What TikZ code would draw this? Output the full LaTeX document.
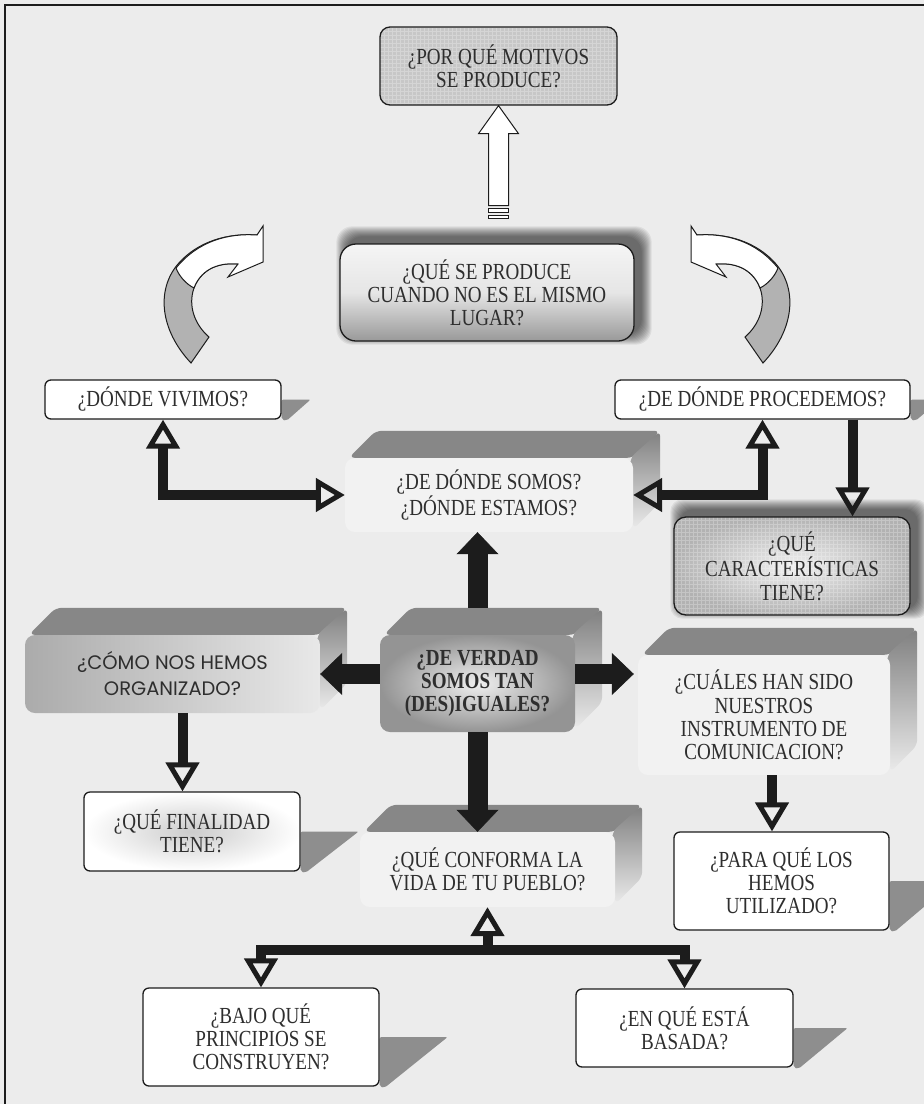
\documentclass[tikz,border=0pt]{standalone}
\usepackage{fontspec}
\setmainfont{Liberation Serif}
\newfontfamily\qfont[FakeStretch=0.83]{Liberation Serif}
\newfontfamily\comicfont{Poppins}
\usetikzlibrary{arrows.meta,calc}
\pgfdeclarelayer{back}
\pgfsetlayers{back,main}
\definecolor{paper}{RGB}{236,236,236}
\definecolor{ink}{RGB}{28,28,28}
\definecolor{castshade}{RGB}{142,142,142}
\definecolor{topface}{RGB}{135,135,135}

\tikzset{
  qtext/.style={font=\qfont\fontsize{23}{23.2}\selectfont, text=ink!92, align=center, inner sep=0pt},
  card/.style={qtext, draw=ink, line width=1.3pt, rounded corners=6pt, fill=white},
  face/.style={qtext, rounded corners=10pt},
  gridded/.style={path picture={\draw[white, opacity=0.25, line width=0.4pt, step=4pt]
      (path picture bounding box.south west) grid (path picture bounding box.north east);}},
  openlink/.style={draw=ink, line width=10pt,
      -{Triangle[open,length=29pt,width=33pt,line width=5pt]}},
  openboth/.style={draw=ink, line width=10pt,
      {Triangle[open,length=29pt,width=33pt,line width=5pt]}-{Triangle[open,length=29pt,width=33pt,line width=5pt]}},
  solidlink/.style={draw=ink, line width=20pt,
      -{Triangle[length=22pt,width=42pt,line width=0.5pt]}},
  outlined/.style={draw=ink, line width=1pt},
}

% cast shadow to the right of a flat card
\newcommand\castshadow[2]{%
  \fill[castshade, rounded corners=2pt] (#1.east) -- ++(#2,0) -- ([xshift=5pt,yshift=-1pt]#1.south east) -- (#1.south east) -- cycle;}
% soft dark halo behind a card, offset up and to the right
\newcommand\softhalo[2]{%
  \foreach \e in {0,1,...,10}{%
    \fill[black, opacity=0.065, rounded corners=#2] ($(#1.north west)+(7-\e,-7-\e)$) rectangle ($(#1.south east)+(7+\e,-7+\e)$);}}
% top and side faces of an extruded box
\newcommand\extrude[1]{%
  \fill[topface, rounded corners=6pt] ([xshift=4pt]#1.north west) -- ($(#1.north west)+(31,-27)$) -- ($(#1.north east)+(27,-27)$) -- (#1.north east) -- cycle;
  \shade[top color=black!50, bottom color=black!8, rounded corners=6pt] ([xshift=-3pt]#1.north east) -- ($(#1.north east)+(27,-27)$) -- ($(#1.south east)+(27,-30)$) -- ([yshift=3pt]#1.south east) -- cycle;}

\begin{document}
\begin{tikzpicture}[x=1pt,y=-1pt]
\useasboundingbox (0,0) rectangle (924,1104);

% ---- question boxes
\node[card, fill=black!22, gridded, rounded corners=10pt, minimum width=237pt, minimum height=78pt] (porque) at (498.5,66) {¿POR QUÉ MOTIVOS\\SE PRODUCE?};
\node[qtext, draw=ink, line width=1.3pt, rounded corners=16pt, top color=black!4, bottom color=black!40, middle color=black!10,
      minimum width=294pt, minimum height=97pt] (produce) at (487,292.5) {¿QUÉ SE PRODUCE\\CUANDO NO ES EL MISMO\\LUGAR?};
\node[card, minimum width=236pt, minimum height=39pt] (vivimos) at (163,399.5) {¿DÓNDE VIVIMOS?};
\node[card, minimum width=295pt, minimum height=39pt] (procedemos) at (762.5,399.5) {¿DE DÓNDE PROCEDEMOS?};
\node[face, fill=black!5, minimum width=288pt, minimum height=74pt] (somos) at (489,495) {¿DE DÓNDE SOMOS?\\¿DÓNDE ESTAMOS?};
\node[card, shading=radial, inner color=black!6, outer color=black!30, gridded, rounded corners=12pt,
      minimum width=236pt, minimum height=98pt] (caract) at (792,566) {¿QUÉ\\CARACTERÍSTICAS\\TIENE?};
\node[face, shading=radial, inner color=black!6, outer color=black!42, minimum width=195pt, minimum height=97pt,
      font=\qfont\bfseries\fontsize{23}{23.2}\selectfont] (verdad) at (477.5,683.5) {¿DE VERDAD\\SOMOS TAN\\(DES)IGUALES?};
\node[face, left color=black!33, right color=black!9, minimum width=295pt, minimum height=78pt,
      font=\comicfont\fontsize{19.5}{26}\selectfont] (como) at (172.5,674) {¿CÓMO NOS HEMOS\\ORGANIZADO?};
\node[face, fill=black!5, minimum width=252pt, minimum height=120pt] (cuales) at (764,715) {¿CUÁLES HAN SIDO\\NUESTROS\\INSTRUMENTO DE\\COMUNICACION?};
\node[card, shading=radial, inner color=black!20, outer color=white, minimum width=216pt, minimum height=79pt] (finalidad) at (192,831.5) {¿QUÉ FINALIDAD\\TIENE?};
\node[face, fill=black!5, minimum width=255pt, minimum height=75pt] (conforma) at (487.5,869.5) {¿QUÉ CONFORMA LA\\VIDA DE TU PUEBLO?};
\node[card, minimum width=215pt, minimum height=98pt] (para) at (781.5,881) {¿PARA QUÉ LOS\\HEMOS\\UTILIZADO?};
\node[card, minimum width=236pt, minimum height=98pt] (bajo) at (261,1037) {¿BAJO QUÉ\\PRINCIPIOS SE\\CONSTRUYEN?};
\node[card, minimum width=217pt, minimum height=78pt] (basada) at (684.5,1028) {¿EN QUÉ ESTÁ\\BASADA?};

% ---- backdrop, shadows and box sides
\begin{pgfonlayer}{back}
  \fill[paper] (0,0) rectangle (924,1104);
  \draw[ink, line width=1.6pt] (5,1110) -- (5,5) -- (930,5);
  \castshadow{vivimos}{29}
  \castshadow{procedemos}{30}
  \castshadow{finalidad}{58}
  \castshadow{para}{65}
  \castshadow{bajo}{68}
  \castshadow{basada}{54}
  \softhalo{produce}{16pt}
  \softhalo{caract}{12pt}
  \extrude{somos}
  \extrude{verdad}
  \extrude{como}
  \extrude{cuales}
  \extrude{conforma}

  % curved arrow on the left, turning towards the centre
  \filldraw[fill=black!30, outlined]
    (191,363) .. controls (160,330) and (156,290) .. (178,264)
    .. controls (198,241) and (228,233) .. (257,235) -- (238,264)
    .. controls (215,262) and (200,272) .. (194,288)
    .. controls (188,305) and (194,324) .. (209,337) -- cycle;
  \filldraw[fill=white, outlined]
    (176,268) .. controls (198,241) and (228,233) .. (257,235)
    -- (263,226) -- (263,262) -- (228,277) -- (238,264)
    .. controls (215,262) and (200,272) .. (194,288)
    .. controls (186,284) and (179,276) .. (176,268) -- cycle;
  % curved arrow on the right, its mirror image
  \filldraw[fill=black!30, outlined]
    (763,363) .. controls (794,330) and (798,290) .. (776,264)
    .. controls (756,241) and (726,233) .. (697,235) -- (716,264)
    .. controls (739,262) and (754,272) .. (760,288)
    .. controls (766,305) and (760,324) .. (745,337) -- cycle;
  \filldraw[fill=white, outlined]
    (778,268) .. controls (756,241) and (726,233) .. (697,235)
    -- (691,226) -- (691,262) -- (726,277) -- (716,264)
    .. controls (739,262) and (754,272) .. (760,288)
    .. controls (768,284) and (775,276) .. (778,268) -- cycle;
\end{pgfonlayer}

% ---- striped block arrow up to the top box
\filldraw[fill=white, outlined]
  ($(porque.south)+(-10,100)$) -- ($(porque.south)+(-10,28)$) -- ($(porque.south)+(-20,28)$)
  -- (porque.south) -- ($(porque.south)+(20,28)$) -- ($(porque.south)+(10,28)$)
  -- ($(porque.south)+(10,100)$) -- cycle;
\filldraw[fill=white, outlined] ($(porque.south)+(-10,103)$) rectangle ($(porque.south)+(10,107)$);
\filldraw[fill=white, outlined] ($(porque.south)+(-10,110)$) rectangle ($(porque.south)+(10,113)$);

% ---- connectors
\draw[openboth] (vivimos.south) |- (somos.west);
\draw[openboth] (procedemos.south) |- (somos.east);
\draw[openlink] ([xshift=90pt]procedemos.south) -- ([xshift=90pt]procedemos.south |- caract.north);

\draw[solidlink] ([yshift=27pt]verdad.north) -- (verdad.north |- somos.south);
\draw[solidlink] (verdad.west |- como.east) -- (como.east);
\draw[solidlink] (verdad.east |- como.east) -- ([xshift=-4pt]cuales.west |- como.east);
\draw[solidlink] (verdad.south) -- (verdad.south |- conforma.north);

\draw[openlink] ([xshift=10pt]como.south) -- ([xshift=10pt]como.south |- finalidad.north);
\draw[openlink] ([xshift=8pt]cuales.south) -- ([xshift=8pt]cuales.south |- para.north);

\coordinate (fork) at ($(conforma.south)+(0,43)$);
\draw[openboth] (bajo.north) |- (fork) -| (basada.north);
\draw[openlink] (fork) -- (conforma.south);
\end{tikzpicture}
\end{document}
